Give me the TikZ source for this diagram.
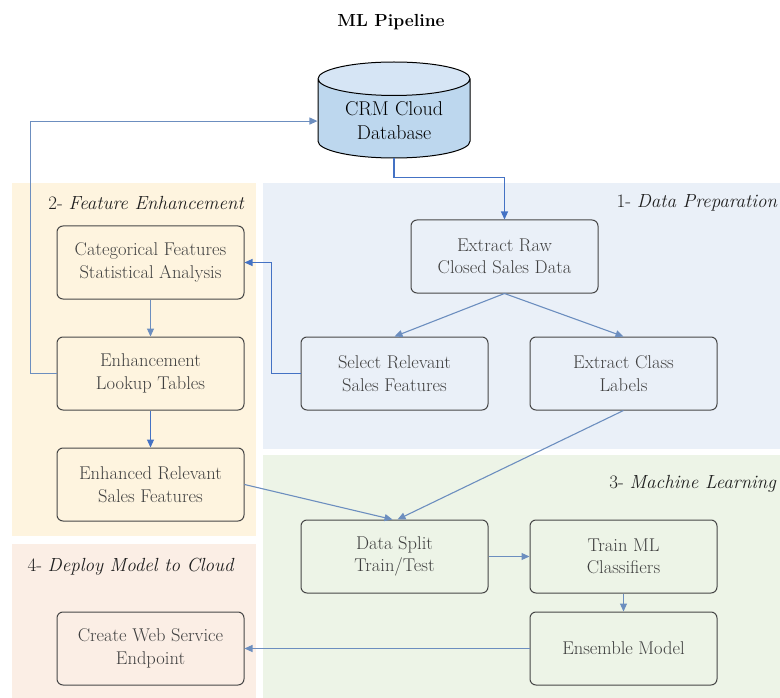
\documentclass[tikz,border=0pt]{standalone}
\usepackage{fontspec}
\usetikzlibrary{shapes.geometric,arrows.meta}
\definecolor{prepbg}{HTML}{EAF0F8}
\definecolor{featbg}{HTML}{FEF4DF}
\definecolor{learnbg}{HTML}{EDF4E7}
\definecolor{deploybg}{HTML}{FBEEE5}
\definecolor{flowblue}{HTML}{4472C4}
\definecolor{flowlight}{HTML}{6C8EBF}
\definecolor{dbbody}{HTML}{BDD7EE}
\definecolor{dbtop}{HTML}{D6E5F5}
\tikzset{
  stage/.style={draw=black!72,rounded corners=6pt,line width=1pt,
    minimum width=187pt,minimum height=73pt,align=center,text=black!75,
    font=\fontsize{18.5}{22.5}\selectfont},
  panellabel/.style={font=\fontsize{19}{22}\selectfont,text=black!88},
  flow/.style={draw=flowblue,line width=1.1pt,-{Triangle[length=8pt,width=7pt]}},
  flowlt/.style={draw=flowlight,line width=1.1pt,-{Triangle[length=8pt,width=7pt]}}
}
\begin{document}
\begin{tikzpicture}[x=1pt,y=-1pt]
		\useasboundingbox (0,0) rectangle (780,698);
		% stage panels
		\fill[featbg] (12,183) rectangle (256,536);
		\fill[prepbg] (263,183) rectangle (780,449);
		\fill[learnbg] (263,455) rectangle (780,698);
		\fill[deploybg] (12,544) rectangle (256,698);
		\node[font=\bfseries\fontsize{17.5}{22}\selectfont] (title) at (391,22) {ML Pipeline};
		\node[panellabel,anchor=east] (prep) at (781,203) {1- \textit{Data Preparation}};
		\node[panellabel,anchor=east] (feat) at (248,203) {2- \textit{Feature Enhancement}};
		\node[panellabel,anchor=east] (learn) at (780,484) {3- \textit{Machine Learning}};
		\node[panellabel,anchor=west] (deploy) at (24,567) {4- \textit{Deploy Model to Cloud}};
		% database
		\node[cylinder,shape border rotate=90,draw=black,line width=1pt,aspect=0.32,
			minimum width=152pt,minimum height=96pt,cylinder uses custom fill,
			cylinder body fill=dbbody,cylinder end fill=dbtop,align=center,anchor=shape center,
			font=\fontsize{20}{24}\selectfont] (db) at (394,110) {CRM Cloud\\Database};
		% boxes
		\node[stage,fill=prepbg] (raw) at (504.5,256.5) {Extract Raw\\Closed Sales Data};
		\node[stage,fill=prepbg] (sel) at (394.5,373.5) {Select Relevant\\Sales Features};
		\node[stage,fill=prepbg] (lab) at (623.5,373.5) {Extract Class\\Labels};
		\node[stage,fill=featbg] (cat) at (150.5,262.5) {Categorical Features\\Statistical Analysis};
		\node[stage,fill=featbg] (enh) at (150.5,373.5) {Enhancement\\Lookup Tables};
		\node[stage,fill=featbg] (enr) at (150.5,484.5) {Enhanced Relevant\\Sales Features};
		\node[stage,fill=learnbg] (split) at (394.5,556.5) {Data Split\\Train/Test};
		\node[stage,fill=learnbg] (train) at (623.5,556.5) {Train ML\\Classifiers};
		\node[stage,fill=learnbg] (ens) at (623.5,648.5) {Ensemble Model};
		\node[stage,fill=deploybg] (web) at (150.5,648.5) {Create Web Service\\Endpoint};
		% connectors
		\draw[flow] (db.bottom) -- ++(0,19) -| (raw.north);
		\draw[flowlt] (raw.south) -- (sel.north);
		\draw[flowlt] (raw.south) -- (lab.north);
		\draw[flow] (sel.west) -- ++(-29,0) |- (cat.east);
		\draw[flowlt] (cat.south) -- (enh.north);
		\draw[flowlt] (enh.west) -- ++(-26,0) |- (db.west);
		\draw[flow] (enh.south) -- (enr.north);
		\draw[flowlt] (enr.east) -- ([xshift=-2pt]split.north);
		\draw[flowlt] (lab.south) -- ([xshift=3pt]split.north);
		\draw[flowlt] (split.east) -- (train.west);
		\draw[flowlt] (train.south) -- (ens.north);
		\draw[flowlt] (ens.west) -- (web.east);
	\end{tikzpicture}
\end{document}
